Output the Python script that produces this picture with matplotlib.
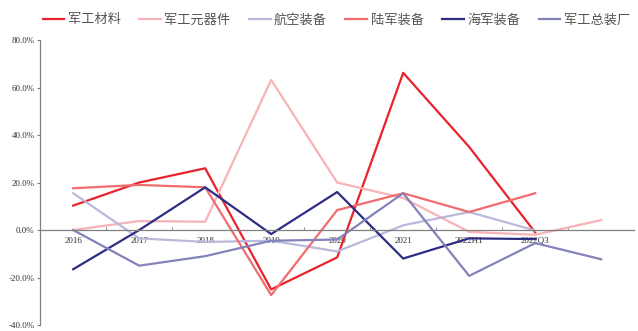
import matplotlib
matplotlib.use("Agg")
import matplotlib.pyplot as plt
from matplotlib.ticker import FuncFormatter, FixedLocator

plt.rcParams['font.family'] = ['Noto Sans CJK SC', 'DejaVu Sans']

# categories (last slot has no label in the source chart)
CATS = ["2016", "2017", "2018", "2019", "2020", "2021", "2022H1", "2022Q3", ""]

# yearly change, %
MATERIALS  = [10.3, 20.0, 26.0, -25.0, -11.5, 66.2, 35.0, -1.0, None]
COMPONENTS = [0.0, 3.8, 3.5, 63.2, 20.0, 13.5, -0.8, -2.0, 4.2]
AVIATION   = [15.5, -3.5, -5.0, -4.5, -9.0, 2.0, 7.6, -0.2, None]
ARMY       = [17.6, 19.0, 18.0, -27.4, 8.4, 15.5, 7.6, 15.5, None]
NAVY       = [-16.5, 0.0, 18.0, -1.7, 16.0, -12.0, -3.5, -3.8, None]
ASSEMBLY   = [0.0, -15.0, -11.0, -4.5, -4.0, 15.5, -19.3, -5.5, -12.3]

SERIES = [
    ("军工材料",   MATERIALS,  "#e8232b"),
    ("军工元器件", COMPONENTS, "#f7b3b7"),
    ("航空装备",   AVIATION,   "#b9b9dc"),
    ("陆军装备",   ARMY,       "#f26b6e"),
    ("海军装备",   NAVY,       "#2d2d86"),
    ("军工总装厂", ASSEMBLY,   "#8383bb"),
]

fig = plt.figure(figsize=(6.38, 3.31), dpi=100)
ax = fig.add_axes([0.063, 0.018, 0.931, 0.861])

for name, vals, color in SERIES:
    xs = [i for i, v in enumerate(vals) if v is not None]
    ys = [v for v in vals if v is not None]
    ax.plot(xs, ys, color=color, linewidth=1.6, label=name)

ax.set_xlim(-0.5, len(CATS) - 0.5)
ax.set_ylim(-40, 80)
ax.set_yticks(range(-40, 81, 20))
ax.yaxis.set_major_formatter(FuncFormatter(lambda v, _: f"{v:.1f}%"))

ax.spines['top'].set_visible(False)
ax.spines['right'].set_visible(False)
ax.spines['bottom'].set_position(('data', 0))
for s in ("left", "bottom"):
    ax.spines[s].set_color("#808080")
    ax.spines[s].set_linewidth(0.9)

ax.set_xticks(range(len(CATS)))
ax.set_xticklabels(CATS)
ax.xaxis.set_minor_locator(FixedLocator([i + 0.5 for i in range(len(CATS) - 1)]))
ax.tick_params(axis="x", which="major", length=0, pad=5)
ax.tick_params(axis="x", which="minor", direction="in", length=2, color="#808080")
ax.tick_params(axis="y", direction="out", length=2, color="#808080", pad=2)

for lab in ax.get_xticklabels() + ax.get_yticklabels():
    lab.set_family("Liberation Serif")
    lab.set_fontsize(6.5)
    lab.set_color("#333333")

fig.legend(loc="center", bbox_to_anchor=(0.527, 0.94), ncol=6, frameon=False,
           fontsize=9.5, handlelength=1.65, handletextpad=0.25, columnspacing=1.4,
           labelcolor="#555555")

fig.savefig("out.png", dpi=100)
